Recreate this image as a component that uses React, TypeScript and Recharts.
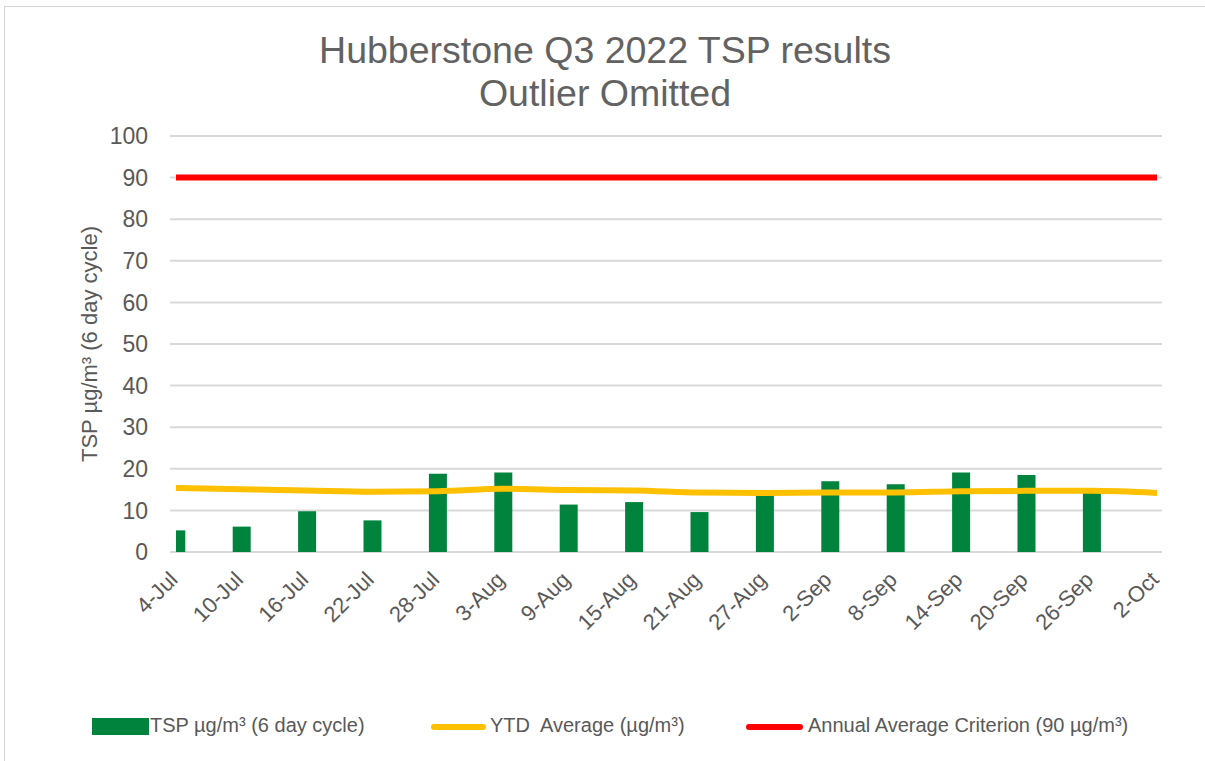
import React from 'react';
import { ComposedChart, Bar, Line, XAxis, YAxis, CartesianGrid, Legend, Label } from 'recharts';

const dateLabels = ['4-Jul', '10-Jul', '16-Jul', '22-Jul', '28-Jul', '3-Aug', '9-Aug', '15-Aug', '21-Aug', '27-Aug', '2-Sep', '8-Sep', '14-Sep', '20-Sep', '26-Sep', '2-Oct'];
const dayOffsets = [0, 6, 12, 18, 24, 30, 36, 42, 48, 54, 60, 66, 72, 78, 84, 90];
const tspValues: (number | null)[] = [5.2, 6.1, 9.8, 7.6, 18.8, 19.1, 11.4, 12.0, 9.6, 13.6, 17.0, 16.3, 19.1, 18.5, 14.6, null];
const ytdValues = [15.4, 15.1, 14.8, 14.5, 14.6, 15.2, 14.9, 14.8, 14.3, 14.2, 14.3, 14.3, 14.6, 14.7, 14.7, 14.2];
const criterionValues = [90, 90, 90, 90, 90, 90, 90, 90, 90, 90, 90, 90, 90, 90, 90, 90];
const yTicks = [0, 10, 20, 30, 40, 50, 60, 70, 80, 90, 100];

const seriesNames = ['TSP µg/m³ (6 day cycle)', 'YTD  Average (µg/m³)', 'Annual Average Criterion (90 µg/m³)'];

const data = dateLabels.map((label, i) => ({
  day: dayOffsets[i],
  label,
  tsp: tspValues[i],
  ytd: ytdValues[i],
  crit: criterionValues[i],
}));

const FONT = '"Liberation Sans", Arial, sans-serif';
const TEXT = '#595959';
const GREEN = '#00843D';
const YELLOW = '#FFC000';
const RED = '#FF0000';

const labelFor = (d: number) => {
  const i = dayOffsets.indexOf(d);
  return i >= 0 ? dateLabels[i] : '';
};

const XTick = (props: any) => {
  const { x, y, payload } = props;
  const ax = x + 3;
  const ay = y + 21;
  return (
    <text
      x={ax}
      y={ay}
      transform={`rotate(-45, ${ax}, ${ay})`}
      textAnchor="end"
      fill={TEXT}
      fontSize={22}
      fontFamily={FONT}
    >
      {labelFor(payload.value)}
    </text>
  );
};

const CustomLegend = () => {
  const textStyle: React.CSSProperties = {
    position: 'absolute',
    top: 13,
    fontSize: 20,
    fontFamily: FONT,
    color: TEXT,
    whiteSpace: 'pre',
    lineHeight: '24px',
  };
  return (
    <div style={{ position: 'relative', width: 1205, height: 54 }}>
      <div style={{ position: 'absolute', left: 92, top: 18, width: 57, height: 17, background: GREEN }} />
      <div style={{ ...textStyle, left: 150 }}>{seriesNames[0]}</div>
      <div style={{ position: 'absolute', left: 431, top: 24, width: 55, height: 6, borderRadius: 3, background: YELLOW }} />
      <div style={{ ...textStyle, left: 490 }}>{seriesNames[1]}</div>
      <div style={{ position: 'absolute', left: 746, top: 24, width: 57, height: 6, borderRadius: 3, background: RED }} />
      <div style={{ ...textStyle, left: 808 }}>{seriesNames[2]}</div>
    </div>
  );
};

export default function App() {
  return (
    <div style={{ position: 'absolute', left: 0, top: 0, width: 1205, height: 761, overflow: 'hidden', background: '#fff' }}>
      <div style={{ position: 'absolute', left: 4, top: 6, width: 1201, height: 1, background: '#d4d4d4' }} />
      <div style={{ position: 'absolute', left: 4, top: 6, width: 1, height: 755, background: '#d4d4d4' }} />
      <div
        style={{
          position: 'absolute',
          left: 0,
          top: 29,
          width: 1210,
          textAlign: 'center',
          fontFamily: FONT,
          fontSize: 37.5,
          lineHeight: '43px',
          color: '#626262',
        }}
      >
        <div>Hubberstone Q3 2022 TSP results</div>
        <div>Outlier Omitted</div>
      </div>
      <div style={{ position: 'absolute', left: 0, top: 0 }}>
        <ComposedChart width={1205} height={761} data={data} margin={{ top: 136, right: 43, left: 70, bottom: 55 }}>
          <CartesianGrid vertical={false} stroke="#d9d9d9" strokeWidth={2} />
          <XAxis
            dataKey="day"
            type="number"
            domain={[0, 90]}
            ticks={dayOffsets}
            interval={0}
            allowDataOverflow
            padding={{ left: 6, right: 5 }}
            axisLine={false}
            tickLine={false}
            height={100}
            tick={<XTick />}
          />
          <YAxis
            type="number"
            domain={[0, 100]}
            ticks={yTicks}
            interval={0}
            width={100}
            axisLine={false}
            tickLine={false}
            tickSize={6}
            tickMargin={16}
            tick={{ fill: TEXT, fontSize: 23, fontFamily: FONT }}
          >
            <Label
              value="TSP µg/m³ (6 day cycle)"
              angle={-90}
              position="insideLeft"
              offset={19}
              style={{ fill: TEXT, fontSize: 22, fontFamily: FONT, textAnchor: 'middle' }}
            />
          </YAxis>
          <Legend verticalAlign="bottom" content={<CustomLegend />} wrapperStyle={{ left: 0, top: 700, width: 1205, height: 54 }} />
          <Bar dataKey="tsp" name={seriesNames[0]} fill={GREEN} barSize={18} isAnimationActive={false} />
          <Line
            dataKey="ytd"
            name={seriesNames[1]}
            type="monotone"
            stroke={YELLOW}
            strokeWidth={6}
            strokeLinecap="round"
            dot={false}
            activeDot={false}
            isAnimationActive={false}
          />
          <Line
            dataKey="crit"
            name={seriesNames[2]}
            type="linear"
            stroke={RED}
            strokeWidth={6}
            strokeLinecap="round"
            dot={false}
            activeDot={false}
            isAnimationActive={false}
          />
        </ComposedChart>
      </div>
    </div>
  );
}
